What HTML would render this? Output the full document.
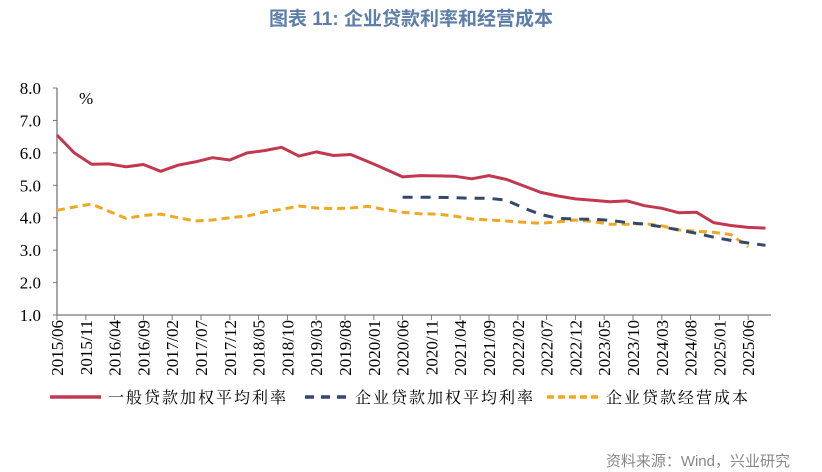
<!DOCTYPE html>
<html><head><meta charset="utf-8"><style>
html,body{margin:0;padding:0;background:#fff;width:822px;height:472px;overflow:hidden}
svg{display:block}
.t{font-family:"Liberation Serif","Noto Serif CJK SC",serif}
</style></head><body>
<svg width="822" height="472" id="c">
<text x="411" y="25" text-anchor="middle" font-family="'Liberation Sans','Noto Sans CJK SC',sans-serif" font-weight="bold" font-size="19" fill="#5d7ea8">图表 11: 企业贷款利率和经营成本</text>
<text x="79" y="104" class="t" font-size="17" fill="#000">%</text>
<g id="axes"></g>
<g id="series"></g>
<g>
<line x1="50" y1="397" x2="101" y2="397" stroke="#c2384e" stroke-width="3.5"/>
<text x="108" y="403" font-family="'Noto Serif CJK SC',serif" font-size="16" letter-spacing="2">一般贷款加权平均利率</text>
<line x1="305" y1="397" x2="348" y2="397" stroke="#34486a" stroke-width="3.5" stroke-dasharray="9,7"/>
<text x="355" y="403" font-family="'Noto Serif CJK SC',serif" font-size="16" letter-spacing="2">企业贷款加权平均利率</text>
<line x1="547" y1="397" x2="600" y2="397" stroke="#f0a722" stroke-width="3.5" stroke-dasharray="7,4"/>
<text x="606" y="403" font-family="'Noto Serif CJK SC',serif" font-size="16" letter-spacing="2">企业贷款经营成本</text>
</g>
<text x="790" y="466" text-anchor="end" font-family="'Liberation Sans','Noto Sans CJK SC',sans-serif" font-size="15" fill="#888">资料来源：Wind，兴业研究</text>
</svg>
<script>
const xLabels=["2015/06","2015/11","2016/04","2016/09","2017/02","2017/07","2017/12","2018/05","2018/10","2019/03","2019/08","2020/01","2020/06","2020/11","2021/04","2021/09","2022/02","2022/07","2022/12","2023/05","2023/10","2024/03","2024/08","2025/01","2025/06"];
const yTicks=[1.0,2.0,3.0,4.0,5.0,6.0,7.0,8.0];
// quarterly observations, index 0 = 2015/06
const generalRate=[6.55,6.0,5.65,5.66,5.57,5.64,5.43,5.62,5.72,5.85,5.78,6.0,6.07,6.17,5.9,6.03,5.92,5.95,5.73,5.5,5.26,5.3,5.29,5.28,5.2,5.3,5.18,4.98,4.78,4.67,4.58,4.54,4.49,4.52,4.37,4.29,4.15,4.17,3.85,3.76,3.70,3.68];
const enterpriseStart=20;
const enterpriseRate=[4.63,4.63,4.63,4.62,4.6,4.6,4.54,4.3,4.1,3.98,3.96,3.95,3.92,3.85,3.8,3.72,3.62,3.52,3.4,3.3,3.22,3.15];
const costRate=[4.23,4.33,4.42,4.2,3.98,4.07,4.11,4.0,3.9,3.93,4.0,4.05,4.18,4.26,4.36,4.3,4.28,4.3,4.35,4.25,4.17,4.12,4.11,4.05,3.96,3.93,3.9,3.86,3.83,3.87,3.93,3.88,3.8,3.8,3.82,3.75,3.62,3.58,3.55,3.48,3.1];
const NS="http://www.w3.org/2000/svg";
const X0=57,X1=771,Y0=315,MONTH=5.76;
const x=q=>X0+q*3*MONTH;
const y=v=>Y0-(v-1)*(Y0-88)/7;
function mk(tag,attrs,parent){const e=document.createElementNS(NS,tag);for(const k in attrs)e.setAttribute(k,attrs[k]);parent.appendChild(e);return e;}
const axes=document.getElementById('axes'),ser=document.getElementById('series');
let a=mk('line',{x1:X0,y1:88,x2:X0,y2:Y0,stroke:'#777','stroke-width':1.3},axes);


a=mk('line',{x1:X0,y1:Y0,x2:X1,y2:Y0,stroke:'#777','stroke-width':1.3},axes);


yTicks.forEach(v=>{
  const tk=mk('line',{x1:X0-4,y1:y(v),x2:X0,y2:y(v),stroke:'#777'},axes);
  
  
  const t=mk('text',{x:41,y:y(v)+6,'text-anchor':'end','font-size':17,class:'t'},axes);
  t.textContent=v.toFixed(1);
  
  
});
xLabels.forEach((l,i)=>{
  const px=X0+i*5*MONTH;
  const tk=mk('line',{x1:px,y1:Y0,x2:px,y2:Y0+5,stroke:'#777'},axes);
  
  
  const t=mk('text',{x:0,y:0,'text-anchor':'end','font-size':17,class:'t',transform:`translate(${px+6},${Y0+5}) rotate(-90)`},axes);
  t.textContent=l;
  
  
});
function line(vals,start,attrs,name){
  const d=vals.map((v,i)=>(i?'L':'M')+x(start+i).toFixed(1)+','+y(v).toFixed(1)).join('');
  const p=mk('path',Object.assign({d:d,fill:'none','stroke-linejoin':'round'},attrs),ser);
  
  
}
line(costRate,0,{stroke:'#f0a722','stroke-width':3,'stroke-dasharray':'8,5'},'series-operating-cost');
line(enterpriseRate,enterpriseStart,{stroke:'#34486a','stroke-width':3,'stroke-dasharray':'10,8'},'series-enterprise-rate');
line(generalRate,0,{stroke:'#c2384e','stroke-width':3},'series-general-rate');
</script>
</body></html>
